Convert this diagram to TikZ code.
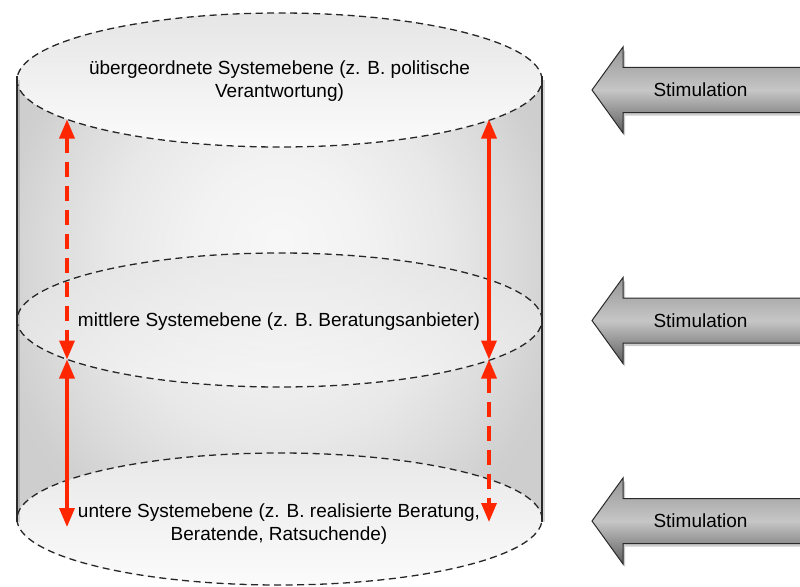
\documentclass[tikz,border=0pt]{standalone}
\usepackage{fontspec}
\setmainfont{Liberation Sans}
\usetikzlibrary{arrows.meta}
\definecolor{redarr}{HTML}{FF2600}
\definecolor{stimtop}{HTML}{969696}
\definecolor{stimmid}{HTML}{C6C6C6}
\definecolor{stimbot}{HTML}{5E5E5E}
\definecolor{sideln}{HTML}{2A2A2A}
\pgfdeclareradialshading{cylshade}{\pgfpoint{0bp}{5bp}}{%
  color(0bp)=(white!97!black); color(8bp)=(white!95!black);
  color(16bp)=(white!91!black); color(22bp)=(white!86!black);
  color(27bp)=(white!81!black); color(50bp)=(white!80!black)}
\begin{document}
\begin{tikzpicture}[x=1pt,y=-1pt,
  lvl/.style={draw=black!85, line width=1.3pt, dash pattern=on 7pt off 4.5pt},
  redsolid/.style={draw=redarr, line width=3.4pt,
    {Triangle[length=19pt,width=15pt]}-{Triangle[length=19pt,width=15pt]}},
  reddash/.style={redsolid, dash pattern=on 15pt off 9pt},
  txt/.style={font=\fontsize{19}{23}\selectfont, align=center, inner sep=0pt},
  stimbox/.style={draw=sideln, line width=1pt, top color=stimtop, bottom color=stimbot, middle color=stimmid},
]
\useasboundingbox (0,0) rectangle (800,586);
% cylinder body
\shade[shading=cylshade]
  (17,80) -- (17,519) arc[start angle=180,end angle=360,x radius=262.5pt,y radius=66pt]
  -- (542,80) arc[start angle=0,end angle=180,x radius=262.5pt,y radius=67pt] -- cycle;
% level ellipses
\shade[top color=gray!20, bottom color=gray!3] (279.5,80) ellipse[x radius=262.5pt, y radius=67pt];
\shade[top color=gray!22, bottom color=gray!5, opacity=.6] (279.5,320) ellipse[x radius=262.5pt, y radius=67pt];
\shade[top color=gray!18, bottom color=gray!3] (279.5,519) ellipse[x radius=262.5pt, y radius=66pt];
% side lines
\draw[line width=2pt, black, opacity=.15] (19,80) -- (19,522);
\draw[line width=2pt, black, opacity=.15] (544,80) -- (544,522);
\draw[line width=1.9pt, sideln] (17,76) -- (17,522);
\draw[line width=1.9pt, sideln] (542,76) -- (542,522);
\draw[lvl] (279.5,80) ellipse[x radius=262.5pt, y radius=67pt];
\draw[lvl] (279.5,320) ellipse[x radius=262.5pt, y radius=67pt];
\draw[lvl] (279.5,519) ellipse[x radius=262.5pt, y radius=66pt];
% texts
\node[txt] (top) at (279.5,81) {übergeordnete Systemebene (z. B. politische\\Verantwortung)};
\node[txt] (mid) at (279,322) {mittlere Systemebene (z. B. Beratungsanbieter)};
\node[txt] (bot) at (279,524.5) {untere Systemebene (z. B. realisierte Beratung,\\Beratende, Ratsuchende)};
% red arrows
\coordinate (lt) at (67,119.5);
\coordinate (lm) at (67,359.5);
\coordinate (lb) at (67,527);
\coordinate (rt) at (489,119.5);
\coordinate (rm) at (489,359.5);
\coordinate (rb) at (489,522);
\draw[reddash] (lt) -- (lm);
\draw[redsolid] (lm) -- (lb);
\draw[redsolid] (rt) -- (rm);
\draw[reddash] (rm) -- (rb);
% stimulation arrows
\foreach \yc/\nm in {90/s1, 320.5/s2, 521/s3} {
  \fill[black, opacity=.2] (594,\yc+3) -- (625,\yc-40) -- (625,\yc-19.5) -- (812,\yc-19.5)
     -- (812,\yc+25.5) -- (625,\yc+25.5) -- (625,\yc+46) -- cycle;
  \path[stimbox] (592,\yc) -- (623,\yc-43) -- (623,\yc-22.5) -- (810,\yc-22.5)
     -- (810,\yc+22.5) -- (623,\yc+22.5) -- (623,\yc+43) -- cycle;
  \node[txt] (\nm) at (700.5,\yc) {Stimulation};
}
\end{tikzpicture}
\end{document}
